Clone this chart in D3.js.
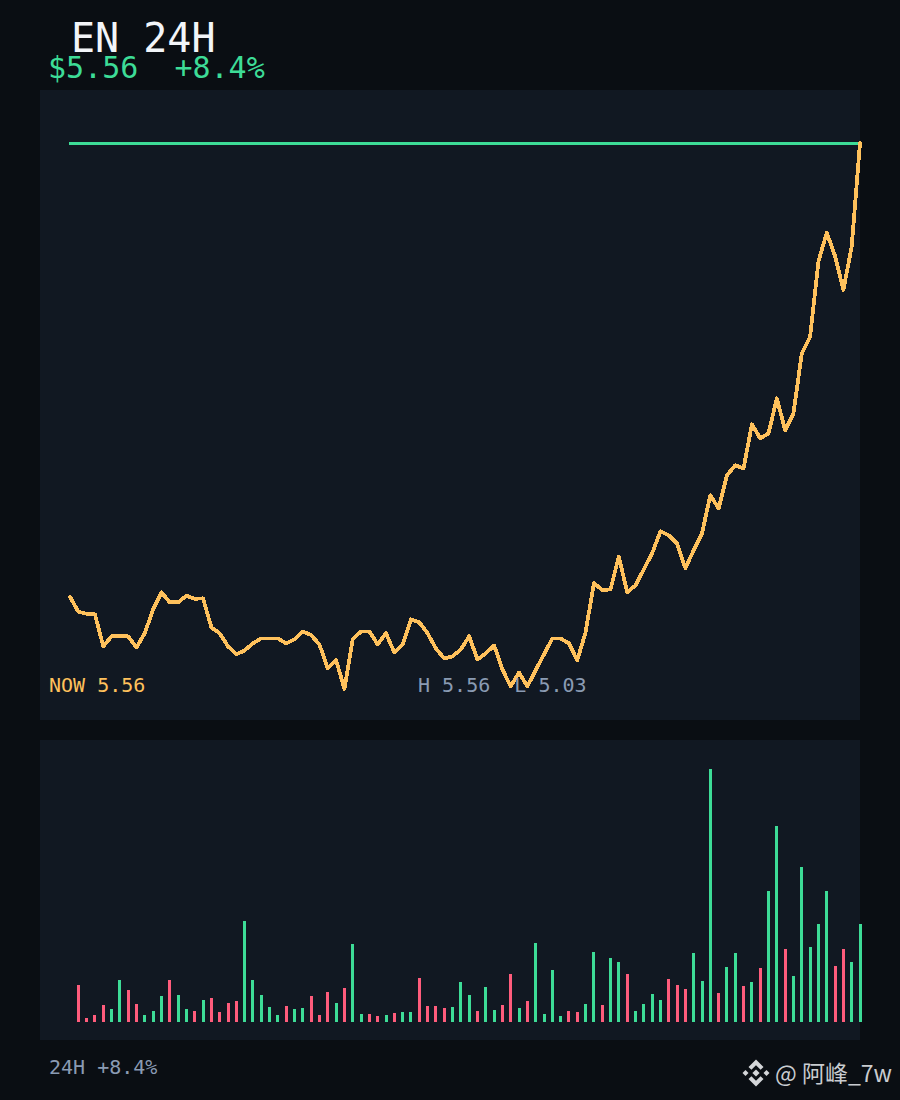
<!DOCTYPE html>
<html>
<head>
<meta charset="utf-8">
<style>
  html, body { margin: 0; padding: 0; background: #0a0e13; }
  svg { display: block; }
  text { font-family: "DejaVu Sans Mono", monospace; }
</style>
</head>
<body>
<div id="chart"></div>
<script src="https://cdn.jsdelivr.net/npm/d3@7"></script>
<script>
const width = 900;
const height = 1100;

// 15 minute closes, 96 points
const prices = [
	5.1195, 5.1050, 5.1030, 5.1024, 5.0714, 5.0811, 5.0811, 5.0811, 5.0704, 5.0843,
	5.1073, 5.1238, 5.1141, 5.1141, 5.1205, 5.1176, 5.1180, 5.0898, 5.0840, 5.0714,
	5.0636, 5.0675, 5.0743, 5.0791, 5.0791, 5.0791, 5.0743, 5.0782, 5.0859, 5.0823,
	5.0731, 5.0500, 5.0581, 5.0300, 5.0782, 5.0859, 5.0859, 5.0733, 5.0840, 5.0655,
	5.0733, 5.0976, 5.0947, 5.0840, 5.0694, 5.0597, 5.0617, 5.0684, 5.0811, 5.0587,
	5.0646, 5.0723, 5.0490, 5.0325, 5.0461, 5.0325, 5.0483, 5.0636, 5.0791, 5.0791,
	5.0743, 5.0578, 5.0850, 5.1328, 5.1260, 5.1267, 5.1587, 5.1238, 5.1306, 5.1461,
	5.1617, 5.1830, 5.1791, 5.1714, 5.1474, 5.1646, 5.1811, 5.2180, 5.2053, 5.2374,
	5.2471, 5.2442, 5.2869, 5.2733, 5.2782, 5.3121, 5.2811, 5.2976, 5.3558, 5.3719,
	5.4448, 5.4729, 5.4503, 5.4173, 5.4593, 5.5600
];

// one bar per point from index 1, in units
const volumes = [
	37, 4, 7, 17, 13, 42, 32, 18, 7, 11,
	26, 42, 27, 13, 11, 22, 24, 10, 19, 21,
	101, 42, 27, 15, 7, 16, 13, 14, 26, 7,
	30, 19, 34, 78, 8, 8, 6, 7, 9, 10,
	10, 44, 16, 16, 14, 15, 40, 27, 11, 35,
	12, 17, 48, 14, 21, 79, 8, 52, 6, 11,
	10, 18, 70, 17, 64, 60, 48, 11, 18, 28,
	22, 43, 37, 33, 69, 41, 253, 29, 55, 69,
	36, 40, 54, 131, 196, 73, 46, 155, 75, 98,
	131, 56, 73, 60, 98
];

const volumeSide = [
	'd', 'd', 'd', 'd', 'u', 'u', 'd', 'd', 'u', 'u',
	'u', 'd', 'u', 'u', 'd', 'u', 'd', 'd', 'd', 'd',
	'u', 'u', 'u', 'u', 'u', 'd', 'u', 'u', 'd', 'd',
	'd', 'u', 'd', 'u', 'u', 'd', 'd', 'u', 'd', 'u',
	'u', 'd', 'd', 'd', 'd', 'u', 'u', 'u', 'd', 'u',
	'u', 'd', 'd', 'u', 'd', 'u', 'u', 'u', 'u', 'd',
	'd', 'u', 'u', 'd', 'u', 'u', 'd', 'u', 'u', 'u',
	'u', 'd', 'd', 'd', 'u', 'u', 'u', 'd', 'u', 'u',
	'd', 'u', 'd', 'u', 'u', 'd', 'u', 'u', 'u', 'u',
	'u', 'd', 'd', 'u', 'u'
];

const titleText = 'EN 24H';
const priceText = '$5.56  +8.4%';
const nowText = 'NOW 5.56';
const rangeText = 'H 5.56  L 5.03';
const footerText = '24H +8.4%';
const watermarkText = '@ 阿峰_7w';

const green = '#3ddc97';
const red = '#ff5c7c';
const orange = '#ffc15c';
const grey = '#8a9bb3';
const panelColor = '#111822';

const svg = d3.select('#chart')
	.append('svg')
	.attr('width', width)
	.attr('height', height);

//Panels
svg.append('rect').attr('x', 40).attr('y', 90).attr('width', 820).attr('height', 630).attr('fill', panelColor);
svg.append('rect').attr('x', 40).attr('y', 740).attr('width', 820).attr('height', 300).attr('fill', panelColor);

//Scales
const scaleX = d3.scaleLinear()
	.domain([0, prices.length - 1])
	.range([70, 860]);

const scaleY = d3.scaleLinear()
	.domain([d3.min(prices), d3.max(prices)])
	.range([689, 143]);

const scaleVol = d3.scaleLinear()
	.domain([0, d3.max(volumes)])
	.range([1022, 769]);

//Titles
svg.append('text')
	.attr('x', 71).attr('y', 52)
	.attr('font-size', 40)
	.attr('fill', '#f2f5f9')
	.text(titleText);

svg.append('text')
	.attr('x', 48).attr('y', 78)
	.attr('font-size', 30)
	.attr('fill', green)
	.style('white-space', 'pre')
	.text(priceText);

//High line
svg.append('line')
	.attr('x1', scaleX(0))
	.attr('x2', scaleX(prices.length - 1))
	.attr('y1', scaleY(d3.max(prices)))
	.attr('y2', scaleY(d3.max(prices)))
	.attr('stroke', green)
	.attr('stroke-width', 3)
	.attr('stroke-linecap', 'square')
	.attr('shape-rendering', 'crispEdges');

//Price line
const line = d3.line()
	.x((d, i) => scaleX(i))
	.y(d => scaleY(d));

svg.append('path')
	.datum(prices)
	.attr('d', line)
	.attr('fill', 'none')
	.attr('stroke', orange)
	.attr('stroke-width', 3.8)
	.attr('stroke-linejoin', 'round')
	.attr('stroke-linecap', 'round')
	.attr('shape-rendering', 'crispEdges');

svg.append('text')
	.attr('x', 49).attr('y', 692)
	.attr('font-size', 20)
	.attr('fill', orange)
	.text(nowText);

svg.append('text')
	.attr('x', 418).attr('y', 692)
	.attr('font-size', 20)
	.attr('fill', grey)
	.style('white-space', 'pre')
	.text(rangeText);

//Volume bars
svg.selectAll('.bar')
	.data(volumes)
	.enter()
	.append('rect')
	.attr('class', 'bar')
	.attr('x', (d, i) => scaleX(i + 1) - 1.5)
	.attr('y', d => scaleVol(d))
	.attr('width', 3)
	.attr('height', d => scaleVol(0) - scaleVol(d))
	.attr('fill', (d, i) => volumeSide[i] === 'u' ? green : red)
	.attr('shape-rendering', 'crispEdges');

svg.append('text')
	.attr('x', 49).attr('y', 1074)
	.attr('font-size', 20)
	.attr('fill', grey)
	.text(footerText);

//Watermark
const mark = svg.append('g')
	.attr('transform', 'translate(756,1073)')
	.attr('fill', '#d4d6d9');

mark.append('path').attr('d', 'M0,-3.6 L3.6,0 L0,3.6 L-3.6,0 Z');
mark.append('path').attr('d', 'M-13.5,0 L-10.5,-3 L-7.5,0 L-10.5,3 Z');
mark.append('path').attr('d', 'M13.5,0 L10.5,-3 L7.5,0 L10.5,3 Z');
mark.append('path').attr('d', 'M0,-13.5 L7.5,-6 L4.6,-3.2 L0,-7.8 L-4.6,-3.2 L-7.5,-6 Z');
mark.append('path').attr('d', 'M0,13.5 L7.5,6 L4.6,3.2 L0,7.8 L-4.6,3.2 L-7.5,6 Z');

svg.append('text')
	.attr('x', 775).attr('y', 1082)
	.attr('font-size', 23)
	.style('font-family', '"Noto Sans CJK SC", "Noto Sans", sans-serif')
	.attr('fill', '#c9ccd0')
	.text(watermarkText);
</script>
</body>
</html>
